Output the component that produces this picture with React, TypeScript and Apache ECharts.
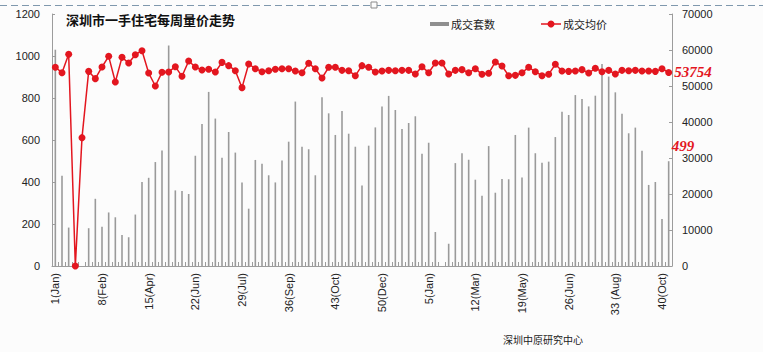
import React, { useEffect, useRef } from "react";
import * as echarts from "echarts";

// Weekly volume (units sold), 52 weeks of year 1 + 41 weeks of year 2
const volumes = [
  1030, 430, 183, 0, 0, 180, 320, 187, 255, 232, 148, 137, 245, 400, 420, 495, 550, 1050, 360, 357,
  343, 525, 676, 829, 702, 516, 638, 540, 398, 273, 505, 487, 432, 398, 502, 592, 783, 568, 556, 432,
  803, 727, 624, 738, 630, 568, 383, 573, 660, 759, 810, 743, 652, 681, 713, 535, 587, 162, 0, 106,
  490, 537, 506, 411, 335, 571, 349, 414, 413, 624, 421, 659, 537, 492, 497, 614, 735, 719, 814, 795,
  760, 811, 962, 902, 827, 725, 632, 659, 549, 386, 400, 224, 499,
];

// Weekly average price (yuan / m2)
const prices = [
  55200, 53700, 58800, 0, 35650, 54070, 52040, 55280, 58240, 51110, 57960, 56390, 58700, 59810, 53610,
  50000, 53800, 53890, 55370, 52690, 56940, 55280, 54440, 54630, 53890, 56570, 55650, 54260, 49540,
  56110, 54810, 53980, 54260, 54630, 54810, 54810, 54170, 53700, 56300, 54810, 52220, 55190, 55190,
  54350, 54260, 52870, 55650, 55190, 53890, 54170, 54350, 54260, 54350, 54350, 53330, 55370, 53700,
  56390, 56390, 53330, 54350, 54540, 53700, 54810, 53240, 53520, 56670, 55560, 52870, 52960, 53700,
  55190, 53980, 52870, 53240, 56020, 54170, 54070, 54170, 54540, 53610, 54910, 53980, 54350, 53330,
  54350, 54260, 54350, 54170, 54170, 54070, 54810, 53754,
];

const tickLabels = [
  "1(Jan)", "8(Feb)", "15(Apr)", "22(Jun)", "29(Jul)", "36(Sep)", "43(Oct)",
  "50(Dec)", "5(Jan)", "12(Mar)", "19(May)", "26(Jun)", "33 (Aug)", "40(Oct)",
];

const weeksYear1 = 52;
const weeksYear2 = 41;
const categories: string[] = [];
for (let w = 1; w <= weeksYear1; w++) categories.push(`Y1-W${w}`);
for (let w = 1; w <= weeksYear2; w++) categories.push(`Y2-W${w}`);

const title = "深圳市一手住宅每周量价走势";
const volumeName = "成交套数";
const priceName = "成交均价";
const credit = "深圳中原研究中心";

const RED = "#e3161f";
const GREY = "#9a9a9a";
const AXIS = "#9c9c9c";
const LABEL_FONT = "'Liberation Sans', Arial, sans-serif";
const CJK_FONT = "'Noto Sans CJK SC', sans-serif";
const SERIF = "'Liberation Serif', 'DejaVu Serif', serif";

export default function App() {
  const ref = useRef<HTMLDivElement>(null);

  useEffect(() => {
    if (!ref.current) return;
    const chart = echarts.init(ref.current, undefined, { renderer: "svg" });
    const last = volumes.length - 1;

    const barData = volumes.map((v, i) =>
      i === last
        ? {
            value: v,
            label: {
              show: true,
              position: [4, -15],
              align: "left",
              verticalAlign: "middle",
              formatter: String(v),
              color: RED,
              fontSize: 15,
              fontWeight: "bold",
              fontStyle: "italic",
              fontFamily: SERIF,
            },
          }
        : v
    );
    const lineData = prices.map((p, i) =>
      i === last
        ? {
            value: p,
            label: {
              show: true,
              position: "right",
              distance: 2,
              formatter: String(p),
              color: RED,
              fontSize: 15,
              fontWeight: "bold",
              fontStyle: "italic",
              fontFamily: SERIF,
            },
          }
        : p
    );

    chart.setOption({
      animation: false,
      backgroundColor: "#fcfcfc",
      title: {
        text: title,
        left: 66,
        top: 13,
        padding: 0,
        textStyle: { fontSize: 13, fontWeight: "bold", color: "#111", fontFamily: CJK_FONT },
      },
      grid: { left: 52, right: 91, top: 14, bottom: 86, containLabel: false },
      xAxis: {
        type: "category",
        data: categories,
        boundaryGap: true,
        axisLine: { lineStyle: { color: AXIS, width: 1 } },
        axisTick: { show: true, inside: true, length: 4, interval: 0, lineStyle: { color: AXIS } },
        axisLabel: {
          interval: 6,
          rotate: 90,
          margin: 7,
          fontSize: 11,
          color: "#222",
          fontFamily: LABEL_FONT,
          formatter: (_v: string, idx: number) => (idx % 7 === 0 ? tickLabels[idx / 7] ?? "" : ""),
        },
        splitLine: { show: false },
      },
      yAxis: [
        {
          type: "value",
          min: 0,
          max: 1200,
          interval: 200,
          axisLine: { show: true, lineStyle: { color: AXIS } },
          axisTick: { show: true, inside: true, length: 3, lineStyle: { color: AXIS } },
          axisLabel: {
            margin: 12,
            fontSize: 11,
            color: "#222",
            fontFamily: LABEL_FONT,
            formatter: (v: number) => String(v),
          },
          splitLine: { show: false },
        },
        {
          type: "value",
          min: 0,
          max: 70000,
          interval: 10000,
          position: "right",
          axisLine: { show: true, lineStyle: { color: AXIS } },
          axisTick: { show: true, inside: true, length: 3, lineStyle: { color: AXIS } },
          axisLabel: {
            margin: 10,
            fontSize: 11,
            color: "#222",
            fontFamily: LABEL_FONT,
            formatter: (v: number) => String(v),
          },
          splitLine: { show: false },
        },
      ],
      series: [
        {
          name: volumeName,
          type: "bar",
          yAxisIndex: 0,
          data: barData,
          barWidth: 1.6,
          itemStyle: { color: GREY },
        },
        {
          name: priceName,
          type: "line",
          yAxisIndex: 1,
          data: lineData,
          symbol: "circle",
          symbolSize: 7,
          showAllSymbol: true,
          lineStyle: { color: RED, width: 1.5 },
          itemStyle: { color: RED },
          z: 5,
        },
      ],
      graphic: [
        {
          type: "line",
          shape: { x1: 0, y1: 5.5, x2: 763, y2: 5.5 },
          style: { stroke: "#7f98ad", lineWidth: 1, lineDash: [7, 4] },
        },
        {
          type: "rect",
          shape: { x: 371, y: 2, width: 6, height: 6 },
          style: { fill: "#fcfcfc", stroke: "#8a8a8a", lineWidth: 1 },
        },
        {
          type: "rect",
          shape: { x: 430, y: 22, width: 19, height: 4 },
          style: { fill: "#8f8f8f" },
        },
        {
          type: "text",
          x: 451,
          y: 24,
          style: {
            text: volumeName,
            fontSize: 11,
            fill: "#222",
            fontFamily: CJK_FONT,
            verticalAlign: "middle",
          },
        },
        {
          type: "line",
          shape: { x1: 541, y1: 24, x2: 561, y2: 24 },
          style: { stroke: RED, lineWidth: 1.5 },
        },
        {
          type: "circle",
          shape: { cx: 551, cy: 24, r: 3.5 },
          style: { fill: RED },
        },
        {
          type: "text",
          x: 563,
          y: 24,
          style: {
            text: priceName,
            fontSize: 11,
            fill: "#222",
            fontFamily: CJK_FONT,
            verticalAlign: "middle",
          },
        },
        {
          type: "text",
          x: 503,
          y: 339,
          style: {
            text: credit,
            fontSize: 10,
            fill: "#222",
            fontFamily: CJK_FONT,
            verticalAlign: "middle",
          },
        },
      ],
    });

    return () => chart.dispose();
  }, []);

  return (
    <div
      ref={ref}
      style={{ position: "absolute", left: 0, top: 0, width: 763, height: 352 }}
    />
  );
}
